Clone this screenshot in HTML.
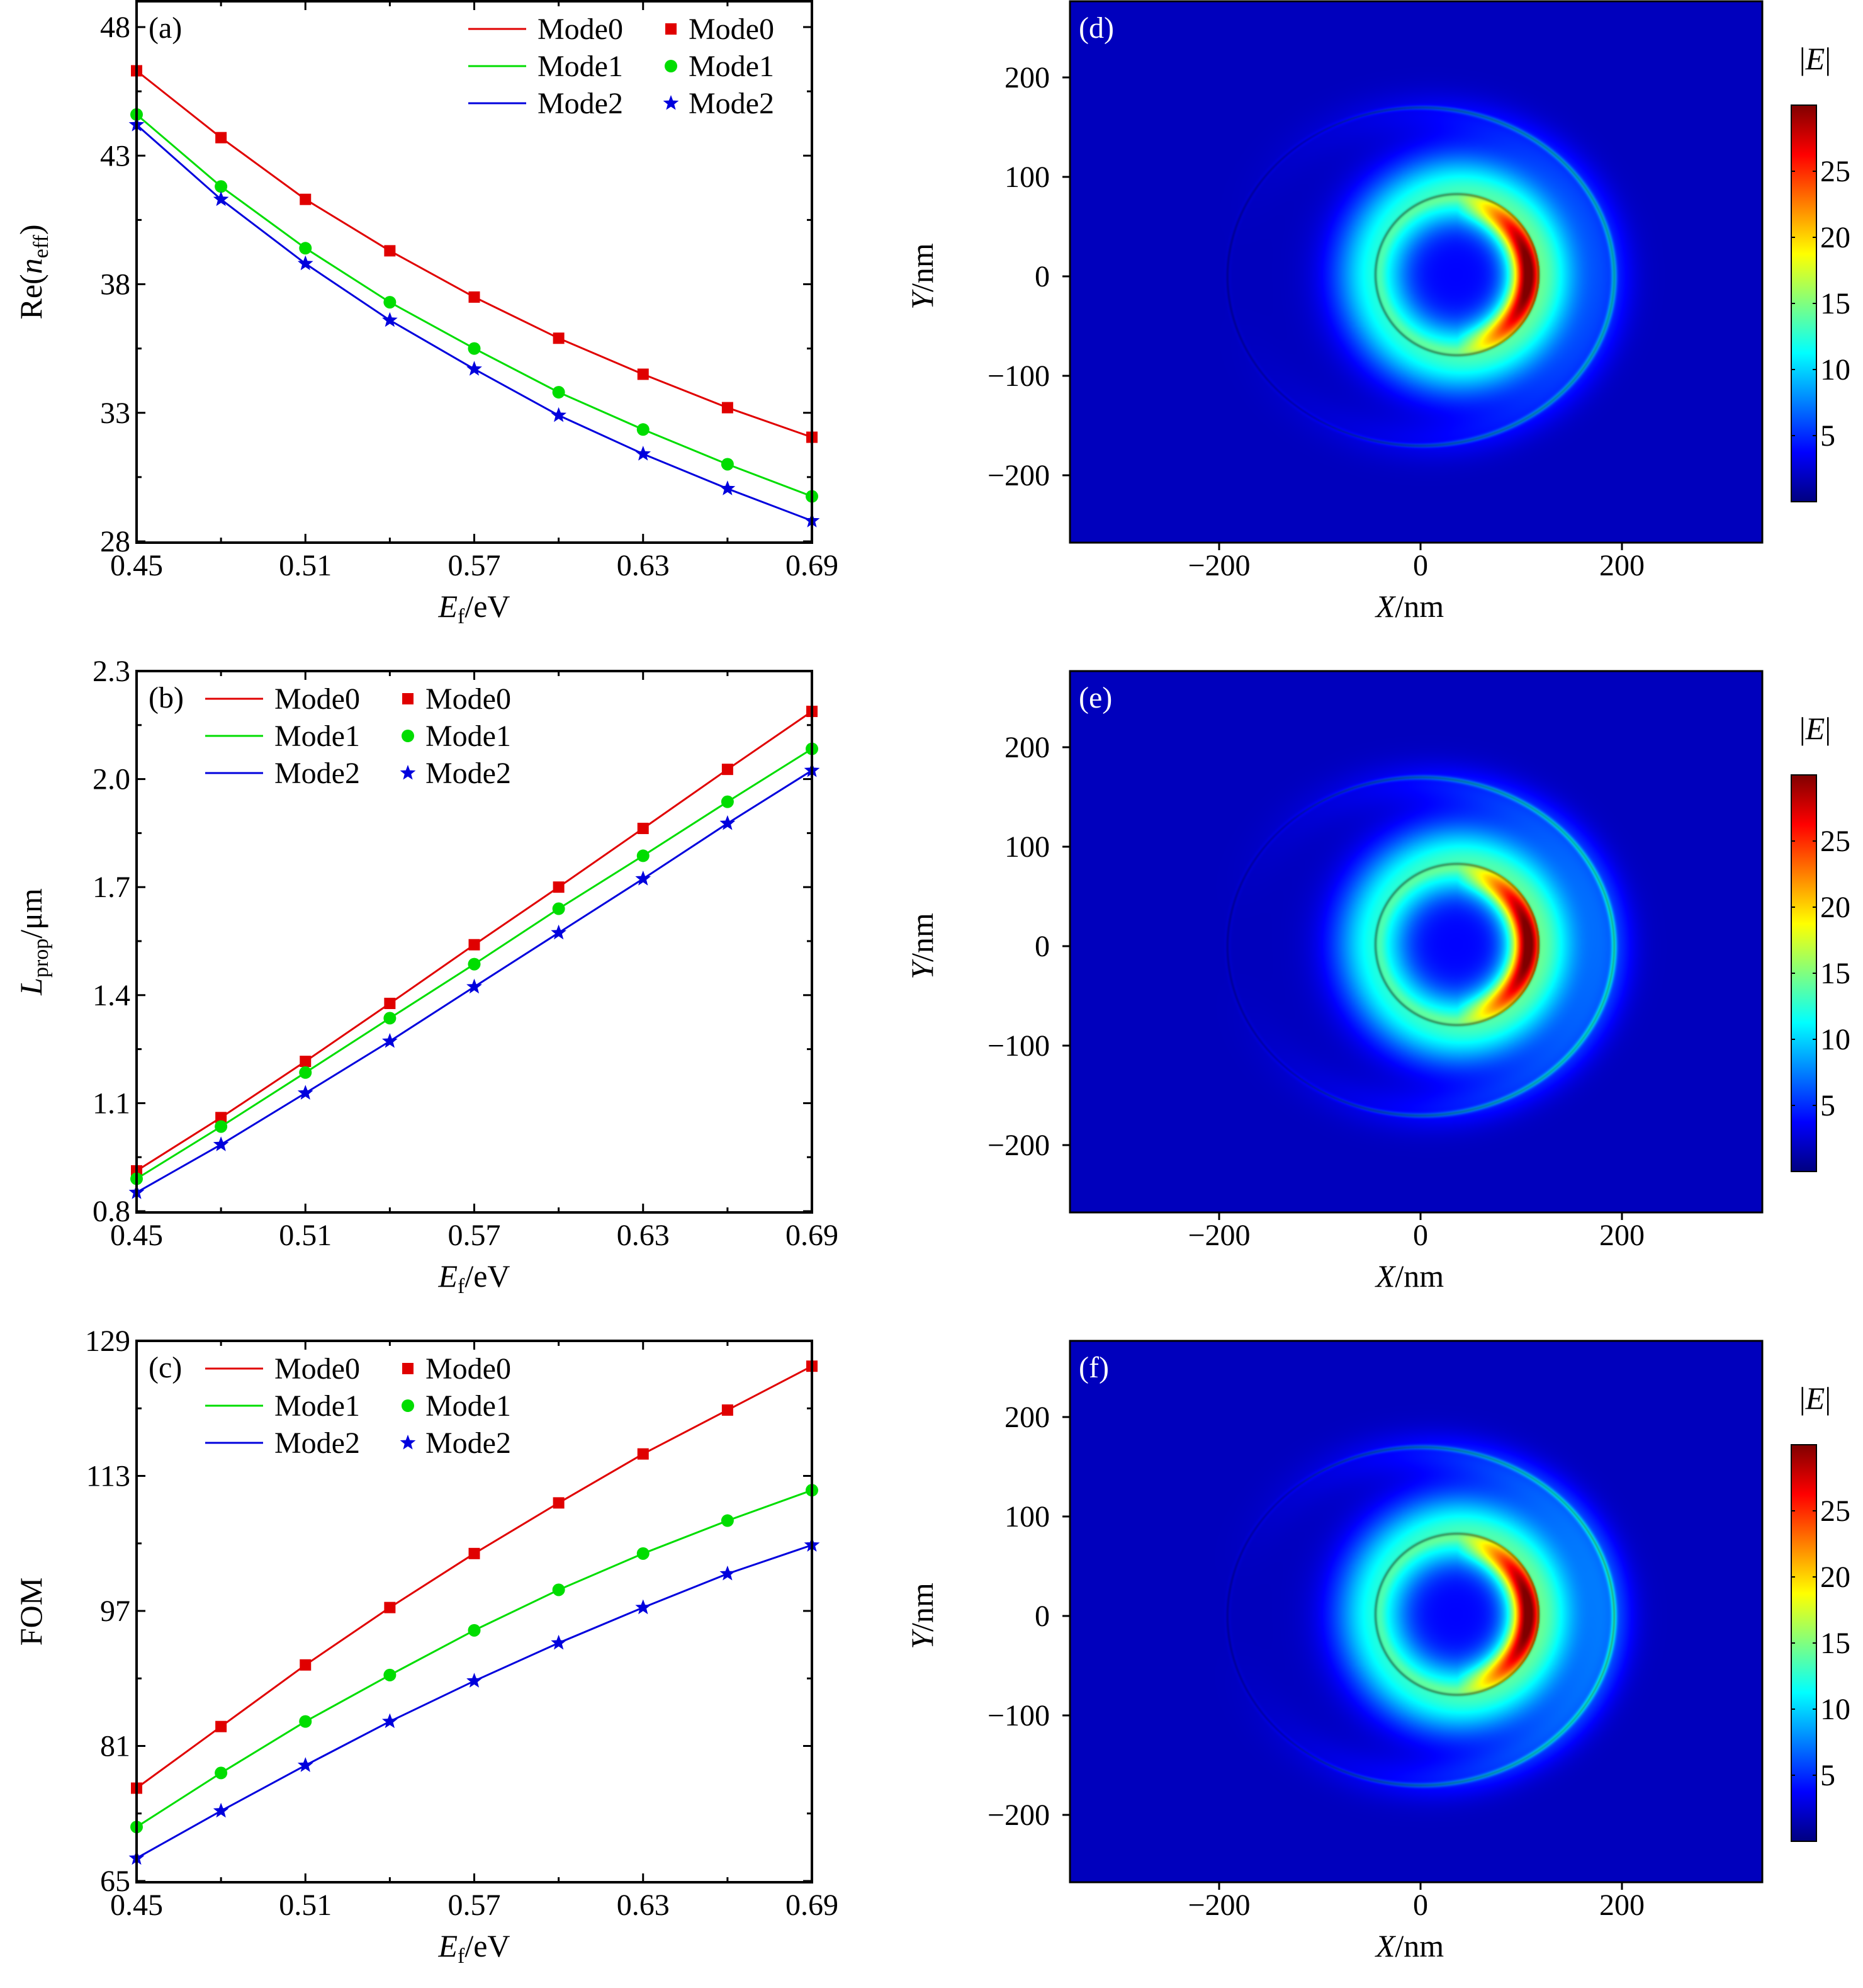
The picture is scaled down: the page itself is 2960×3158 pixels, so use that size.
<!DOCTYPE html>
<html><head><meta charset="utf-8"><style>
body{margin:0;background:#fff}
#wrap{position:relative;width:2960px;height:3158px;overflow:hidden;background:#fff}
svg{position:absolute;left:0;top:0}
canvas{position:absolute}
text{font-family:"Liberation Serif",serif;fill:#000}
</style></head><body>
<div id="wrap">
<canvas id="hd" width="1100" height="860" style="left:1700px;top:2px"></canvas>
<canvas id="he" width="1100" height="860" style="left:1700px;top:1066px"></canvas>
<canvas id="hf" width="1100" height="860" style="left:1700px;top:2130px"></canvas>
<svg id="svg" width="2960" height="3158" xmlns="http://www.w3.org/2000/svg">
<defs><linearGradient id="jet" x1="0" y1="1" x2="0" y2="0">
<stop offset="0" stop-color="#000080"/><stop offset="0.125" stop-color="#0000ff"/><stop offset="0.375" stop-color="#00ffff"/><stop offset="0.625" stop-color="#ffff00"/><stop offset="0.875" stop-color="#ff0000"/><stop offset="1" stop-color="#800000"/></linearGradient></defs>
</svg>
</div>
<script>
const categories=[0.45,0.48,0.51,0.54,0.57,0.60,0.63,0.66,0.69];
const neffMode0=[46.3,43.7,41.3,39.3,37.5,35.9,34.5,33.2,32.05];
const neffMode1=[44.6,41.8,39.4,37.3,35.5,33.8,32.35,31.0,29.75];
const neffMode2=[44.2,41.3,38.8,36.6,34.7,32.9,31.4,30.05,28.8];
const lpMode0=[0.912,1.06,1.216,1.377,1.54,1.70,1.863,2.027,2.188];
const lpMode1=[0.89,1.035,1.185,1.336,1.486,1.64,1.787,1.937,2.084];
const lpMode2=[0.852,0.985,1.128,1.272,1.423,1.573,1.723,1.877,2.024];
const fomMode0=[76.0,83.3,90.6,97.4,103.8,109.8,115.6,120.8,126.0];
const fomMode1=[71.4,77.8,83.9,89.4,94.7,99.5,103.8,107.7,111.3];
const fomMode2=[67.7,73.3,78.7,83.9,88.7,93.2,97.4,101.4,104.8];
const xTicks=["0.45","0.51","0.57","0.63","0.69"];
const neffTicks=[28,33,38,43,48];
const lpTicks=["0.8","1.1","1.4","1.7","2.0","2.3"];
const fomTicks=[65,81,97,113,129];
const mapXTicks=[-200,0,200];
const mapYTicks=[200,100,0,-100,-200];
const cbTicks=[5,10,15,20,25];

const svg=document.getElementById('svg');
const NS='http://www.w3.org/2000/svg';
function mk(tag,attrs,parent,txt){const e=document.createElementNS(NS,tag);for(const k in attrs)e.setAttribute(k,attrs[k]);if(txt!==undefined)e.textContent=txt;(parent||svg).appendChild(e);return e;}
const X0=217,X1=1290;
const FS=48;
const colors=['#e00000','#00dd00','#0000dd'];

function marker(g,type,x,y,c){
  let m;
  if(type==0)m=mk('rect',{x:x-9,y:y-9,width:18,height:18,fill:c},g);
  else if(type==1)m=mk('circle',{cx:x,cy:y,r:10,fill:c},g);
  else{let p=[];for(let i=0;i<10;i++){const r=i%2?5.5:13,a=-Math.PI/2+i*Math.PI/5;p.push((x+r*Math.cos(a)).toFixed(1)+','+(y+r*Math.sin(a)).toFixed(1));}
    m=mk('polygon',{points:p.join(' '),fill:c},g);}
  return m;
}

function linePanel(o){
  const g=mk('g',{});
  
  
  const sx=v=>X0+(v-0.45)/(0.69-0.45)*(X1-X0);
  const sy=v=>o.yb-(v-o.vmin)/(o.vmax-o.vmin)*(o.yb-o.yt);
  const tg=mk('g',{},g);
  
  
  for(let i=0;i<9;i++){const v=0.45+i*0.03;const x=sx(v);const L=i%2?8:14;
    mk('line',{x1:x,y1:o.bottom,x2:x,y2:o.bottom-L,stroke:'#000','stroke-width':3},tg);
    mk('line',{x1:x,y1:o.top,x2:x,y2:o.top+L,stroke:'#000','stroke-width':3},tg);}
  xTicks.forEach(t=>{const e=mk('text',{x:sx(+t),y:o.bottom+52,'font-size':FS,'text-anchor':'middle'},tg,t);
    });
  const yg=mk('g',{},g);
  
  
  const st=(o.ticks[1]-o.ticks[0]);
  for(let k=0;k<o.ticks.length*2;k++){const v=+o.ticks[0]+k*st/2;const y=sy(v);if(y<o.top-1)break;const L=k%2?8:14;
    mk('line',{x1:X0,y1:y,x2:X0+L,y2:y,stroke:'#000','stroke-width':3},yg);
    mk('line',{x1:X1,y1:y,x2:X1-L,y2:y,stroke:'#000','stroke-width':3},yg);}
  o.ticks.forEach(t=>{const e=mk('text',{x:X0-10,y:sy(+t)+16,'font-size':FS,'text-anchor':'end'},yg,t);
    });
  o.series.forEach((arr,si)=>{
    const sg=mk('g',{},g);
    
    
    const pts=arr.map((v,i)=>sx(categories[i]).toFixed(1)+','+sy(v).toFixed(1)).join(' ');
    mk('polyline',{points:pts,fill:'none',stroke:colors[si],'stroke-width':3},sg);
    arr.forEach((v,i)=>{const m=marker(sg,si,sx(categories[i]),sy(v),colors[si]);
      });
  });
  const f=mk('rect',{x:X0,y:o.top,width:X1-X0,height:o.bottom-o.top,fill:'none',stroke:'#000','stroke-width':4},g);
  
  const pl=mk('text',{x:236,y:o.top+58,'font-size':FS},g,o.label);
  
  const lg=mk('g',{},g);
  
  
  ['Mode0','Mode1','Mode2'].forEach((nm,i)=>{const y=o.legY+i*59;
    const le=mk('g',{},lg);
    
    mk('line',{x1:o.legX,y1:y,x2:o.legX+92,y2:y,stroke:colors[i],'stroke-width':3},le);
    mk('text',{x:o.legX+110,y:y+16,'font-size':FS},le,nm);
    marker(le,i,o.legX+322,y,colors[i]);
    mk('text',{x:o.legX+350,y:y+16,'font-size':FS},le,nm);});
  const xt=mk('text',{x:(X0+X1)/2,y:o.bottom+118,'font-size':50,'text-anchor':'middle'},g);
  
  xt.innerHTML='<tspan font-style="italic">E</tspan><tspan font-size="34" dy="10">f</tspan><tspan dy="-10">/eV</tspan>';
  const yt=mk('text',{x:0,y:0,'font-size':50,'text-anchor':'middle',transform:`translate(66,${(o.top+o.bottom)/2}) rotate(-90)`},g);
  
  yt.innerHTML=o.ytitle;
}
linePanel({name:'panel-a-neff',label:'(a)',top:2,bottom:862,yt:43,yb:860,vmin:28,vmax:48,ticks:neffTicks,series:[neffMode0,neffMode1,neffMode2],legX:744,legY:46,
  ytitle:'Re(<tspan font-style="italic">n</tspan><tspan font-size="34" dy="10">eff</tspan><tspan dy="-10">)</tspan>'});
linePanel({name:'panel-b-lprop',label:'(b)',top:1066,bottom:1926,yt:1066,yb:1924,vmin:0.8,vmax:2.3,ticks:lpTicks,series:[lpMode0,lpMode1,lpMode2],legX:326,legY:1110,
  ytitle:'<tspan font-style="italic">L</tspan><tspan font-size="34" dy="10">prop</tspan><tspan dy="-10">/μm</tspan>'});
linePanel({name:'panel-c-fom',label:'(c)',top:2130,bottom:2990,yt:2130,yb:2988,vmin:65,vmax:129,ticks:fomTicks,series:[fomMode0,fomMode1,fomMode2],legX:326,legY:2174,
  ytitle:'FOM'});

function jet(t){t=Math.max(0,Math.min(1,t));
  return [1.5-Math.abs(4*t-3),1.5-Math.abs(4*t-2),1.5-Math.abs(4*t-1)].map(v=>Math.max(0,Math.min(1,v)));}
function field(X,Y,p){
  const dx=X-36,dy=Y-2;const r1=Math.sqrt(dx*dx+dy*dy);const th=Math.atan2(dy,dx);const c=Math.cos(th);
  let v=1.8;
  if(r1<80){v+=2+9.5*(1+0.1*c)*Math.exp(-Math.pow((r1-80)/30,2));}
  else{v+=11.5*(1+0.1*c)*Math.exp(-Math.pow((r1-80)/42,2));}
  if(r1<82){const cc=Math.max(0,c);
    v+=15*Math.pow(cc,1.1)*Math.exp(-Math.pow((r1-70)/12,2));
    v+=3.5*cc*Math.exp(-Math.pow((r1-60)/18,2));
    v+=1.2*Math.exp(-Math.pow((r1-77)/6,2));}
  const e=Math.sqrt((X/192)*(X/192)+(Y/170)*(Y/170));const d2=(e-1)*180;const c2=X/Math.max(1,Math.sqrt(X*X+Y*Y));
  v+=p.og*(0.5+0.5*c2)*Math.exp(-Math.pow((d2+6)/24,2));
  v+=p.ol*(0.15+0.85*(c2+1)/2)*Math.exp(-Math.pow(d2/2.5,2));
  let dark=1-0.38*Math.exp(-Math.pow((r1-81)/1.5,2));
  dark*=1-0.3*Math.exp(-Math.pow(d2/1.4,2));
  return [v,dark];
}
function drawMap(id,p){
  const cv=document.getElementById(id),ctx=cv.getContext('2d');const W=cv.width,H=cv.height;
  const img=ctx.createImageData(W,H);
  for(let j=0;j<H;j++){const Y=(439-(j+2))/1.58;
    for(let i=0;i<W;i++){const X=(1700+i-2257)/1.6;const f=field(X,Y,p);const col=jet(f[0]/30);const k=(j*W+i)*4;
      img.data[k]=255*col[0]*f[1];img.data[k+1]=255*col[1]*f[1];img.data[k+2]=255*col[2]*f[1];img.data[k+3]=255;}}
  ctx.putImageData(img,0,0);
}
drawMap('hd',{og:3,ol:5});
drawMap('he',{og:4,ol:6});
drawMap('hf',{og:4.5,ol:6});

function mapAxes(name,off,label){
  const g=mk('g',{});
  
  
  const top=2+off,bot=862+off;
  const sx=v=>2257+v*1.6, sy=v=>439+off-v*1.58;
  const f=mk('rect',{x:1700,y:top,width:1100,height:860,fill:'none',stroke:'#000','stroke-width':3},g);
  
  mapXTicks.forEach(t=>{mk('line',{x1:sx(t),y1:bot,x2:sx(t),y2:bot+12,stroke:'#000','stroke-width':3},g);
    const e=mk('text',{x:sx(t),y:bot+52,'font-size':FS,'text-anchor':'middle'},g,t<0?'−'+(-t):''+t);
    });
  mapYTicks.forEach(t=>{mk('line',{x1:1688,y1:sy(t),x2:1700,y2:sy(t),stroke:'#000','stroke-width':3},g);
    const e=mk('text',{x:1668,y:sy(t)+16,'font-size':FS,'text-anchor':'end'},g,t<0?'−'+(-t):''+t);
    });
  const xt=mk('text',{x:2240,y:bot+118,'font-size':50,'text-anchor':'middle'},g);
  
  xt.innerHTML='<tspan font-style="italic">X</tspan>/nm';
  const yt=mk('text',{x:0,y:0,'font-size':50,'text-anchor':'middle',transform:`translate(1482,${sy(0)}) rotate(-90)`},g);
  
  yt.innerHTML='<tspan font-style="italic">Y</tspan>/nm';
  const pl=mk('text',{x:1714,y:top+58,'font-size':FS,style:'fill:#fff'},g,label);
  
  const cb=mk('g',{},g);
  
  const cy0=797+off,cy1=167+off;const cv=v=>cy0-v/30*(cy0-cy1);
  mk('rect',{x:2846,y:cy1,width:40,height:cy0-cy1,fill:'url(#jet)',stroke:'#000','stroke-width':2},cb);
  cbTicks.forEach(t=>{mk('line',{x1:2846,y1:cv(t),x2:2852,y2:cv(t),stroke:'#000','stroke-width':2},cb);
    mk('line',{x1:2880,y1:cv(t),x2:2886,y2:cv(t),stroke:'#000','stroke-width':2},cb);
    const e=mk('text',{x:2892,y:cv(t)+16,'font-size':FS},cb,''+t);
    });
  const ct=mk('text',{x:2884,y:110+off,'font-size':50,'text-anchor':'middle'},cb);
  
  ct.innerHTML='|<tspan font-style="italic">E</tspan>|';
}
mapAxes('panel-d-map',0,'(d)');
mapAxes('panel-e-map',1064,'(e)');
mapAxes('panel-f-map',2128,'(f)');
</script>
</body></html>
